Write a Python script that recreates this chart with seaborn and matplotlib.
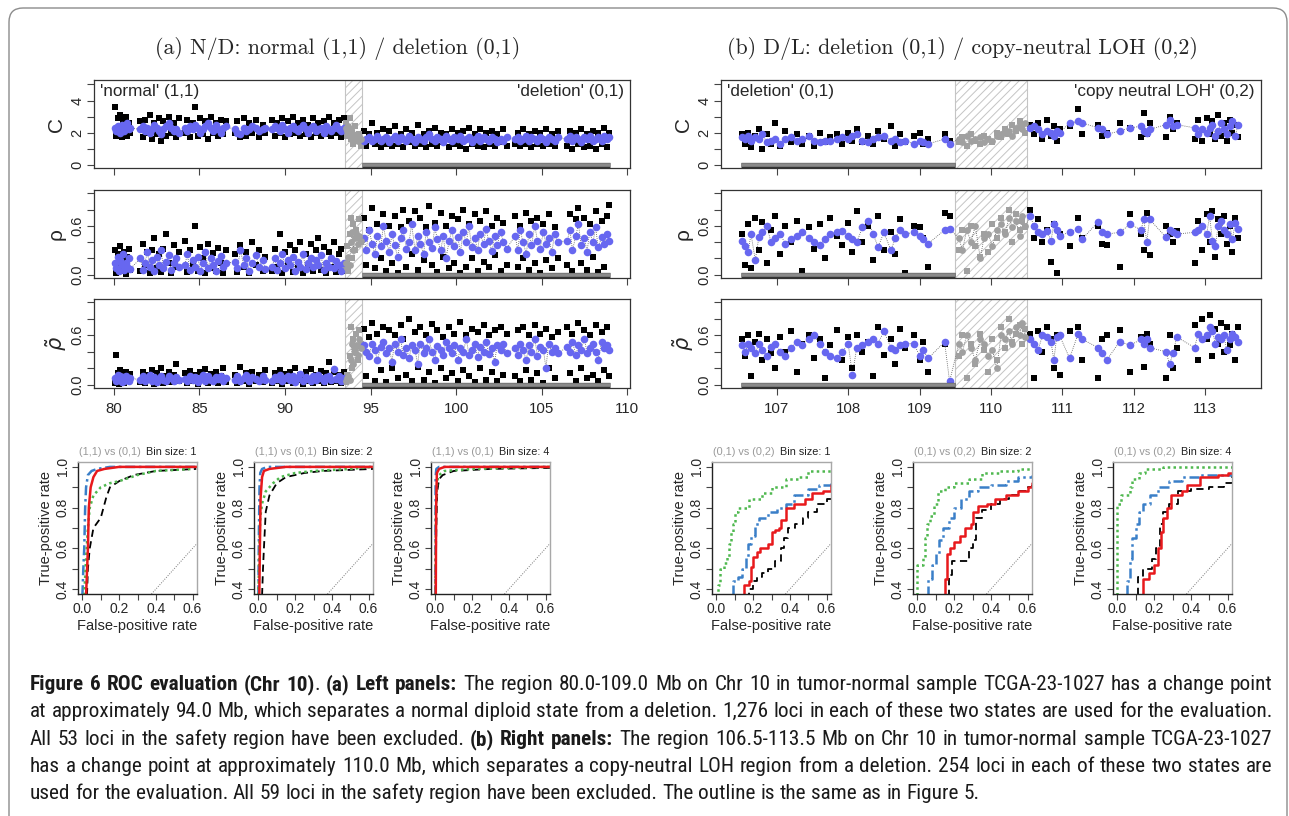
import matplotlib
matplotlib.use("Agg")
import numpy as np
import matplotlib.pyplot as plt
import seaborn as sns
from matplotlib import font_manager as fm
from matplotlib.patches import FancyBboxPatch

W, H = 1289, 816

# ---------------------------------------------------------------
# (a) N/D: loci positions (Mb) = normal | safety | deletion
# ---------------------------------------------------------------
pos_a = [
    80.05, 80.14, 80.22, 80.31, 80.38, 80.46, 80.55, 80.62, 80.71, 80.78, 80.86, 80.95,
    81.55, 81.69, 81.82, 81.96, 82.1, 82.23, 82.35, 82.51, 82.63, 82.76, 82.9, 83.04, 83.21, 83.35, 83.5, 83.66, 83.8,
    84.15, 84.29, 84.45, 84.6, 84.74, 84.9, 85.06, 85.2, 85.34, 85.5, 85.66, 85.8, 85.95, 86.1, 86.26, 86.4, 86.55,
    87.05, 87.21, 87.4, 87.58, 87.75, 87.91, 88.1, 88.3, 88.49, 88.7, 88.85,
    89.25, 89.4, 89.56, 89.7, 89.85, 90.01, 90.15, 90.3, 90.46, 90.6, 90.75, 90.9, 91.06, 91.2, 91.35, 91.51, 91.65,
    91.8, 91.95, 92.1, 92.26, 92.4, 92.55, 92.7, 92.86, 93.0, 93.15, 93.3, 93.42,
    93.55, 93.62, 93.7, 93.78, 93.85, 93.92, 94.0, 94.08, 94.15, 94.25, 94.35, 94.45,
    94.6, 94.75, 94.9, 95.1, 95.25, 95.4, 95.6, 95.75, 95.9, 96.1, 96.25, 96.4, 96.6, 96.75, 96.9, 97.1, 97.25,
    97.4, 97.6, 97.75, 97.9, 98.1, 98.25, 98.4, 98.6, 98.75, 98.9, 99.1, 99.25, 99.4, 99.6, 99.75, 99.9, 100.1,
    100.25, 100.4, 100.6, 100.75, 100.9, 101.1, 101.25, 101.4, 101.6, 101.75, 101.9, 102.1, 102.25, 102.4, 102.6,
    102.75, 102.95,
    103.45, 103.6, 103.75, 103.9, 104.1, 104.25, 104.4, 104.6, 104.75, 104.9, 105.1, 105.25, 105.4, 105.6, 105.75, 105.95,
    106.5, 106.65, 106.8, 107.0, 107.15, 107.3, 107.5, 107.65, 107.8, 108.0, 108.15, 108.3, 108.5, 108.65, 108.8, 108.95,
]

c_black_a = [
    3.6, 1.8, 2.9, 1.9, 3.1, 1.7, 2.7, 2.0, 3.0, 1.8, 2.6, 2.0,
    2.7, 1.7, 2.8, 2.0, 3.1, 1.6, 2.6, 1.9, 2.9, 1.5, 2.7, 1.8, 3.0, 2.0, 2.6, 1.7, 2.9,
    2.0, 2.8, 1.7, 2.6, 3.6, 1.8, 2.9, 1.9, 2.7, 1.6, 3.0, 2.0, 2.6, 1.8, 2.8, 1.9, 2.7,
    2.0, 2.7, 1.7, 2.9, 1.8, 2.6, 2.0, 2.8, 1.7, 2.5, 2.0,
    2.8, 1.8, 2.6, 2.0, 2.9, 1.7, 2.7, 1.9, 3.0, 2.0, 2.6, 1.8, 2.8, 1.9, 2.5, 1.7, 2.9, 2.0, 2.6, 1.8,
    2.7, 1.9, 3.0, 1.8, 2.6, 2.0, 2.8, 1.7, 2.9,
    2.6, 1.8, 2.2, 2.9, 1.6, 2.0, 1.3, 2.4, 1.7, 1.5, 1.9, 1.2,
    2.1, 1.2, 1.9, 2.6, 1.3, 2.0, 1.1, 2.2, 1.3, 2.1, 1.2, 2.4, 1.3, 1.9, 1.1, 2.2, 1.4, 2.0, 1.2, 2.5,
    1.3, 1.9, 1.1, 2.1, 1.3, 2.3, 1.2, 2.0, 1.4, 1.9, 1.1, 2.2, 1.3, 2.0, 1.2, 2.1, 1.0, 2.3, 1.3, 1.9,
    1.2, 2.2, 1.1, 2.0, 1.3, 2.1, 1.2, 1.9, 1.4, 2.2, 1.2,
    1.3, 2.0, 1.2, 2.2, 1.3, 1.9, 1.1, 2.1, 1.3, 2.0, 1.2, 2.2, 1.3, 1.9, 1.2, 2.1,
    1.2, 2.1, 1.0, 2.0, 1.3, 2.2, 1.1, 1.9, 1.2, 2.1, 1.0, 2.0, 1.3, 2.3, 1.1, 2.0,
]
c_blue_a = [
    2.3, 2.1, 2.4, 2.2, 2.0, 2.5, 2.3, 2.1, 2.4, 2.6, 2.2, 2.3,
    2.2, 2.4, 2.1, 2.3, 2.0, 2.2, 2.5, 2.3, 2.1, 1.9, 2.2, 2.4, 2.6, 2.3, 2.1, 2.2, 2.0,
    2.3, 2.1, 2.4, 2.2, 2.5, 2.3, 2.0, 2.2, 2.4, 2.6, 2.3, 2.1, 2.5, 2.2, 2.0, 2.3, 2.4,
    2.2, 2.0, 1.9, 2.3, 2.1, 2.2, 2.4, 2.3, 2.1, 2.2, 2.3,
    2.2, 2.4, 2.3, 2.1, 2.5, 2.2, 2.0, 2.3, 2.4, 2.2, 2.1, 2.3, 2.5, 2.2, 2.0, 2.3, 2.4, 2.1, 2.2, 2.3,
    2.0, 2.4, 2.2, 2.1, 2.3, 2.5, 2.2, 2.1, 2.3,
    2.3, 2.1, 2.4, 2.0, 2.2, 1.7, 1.9, 1.6, 1.8, 1.5, 1.7, 1.6,
    1.5, 1.6, 1.7, 1.5, 1.6, 1.8, 1.5, 1.6, 1.7, 1.4, 1.6, 1.8, 1.5, 1.7, 1.6, 1.5, 1.8, 1.6, 1.4, 1.7,
    1.6, 1.5, 1.7, 1.9, 1.6, 1.5, 1.7, 1.6, 1.4, 1.8, 1.6, 1.5, 1.7, 1.6, 1.8, 1.5, 1.6, 1.7, 1.4, 1.6,
    1.8, 1.5, 1.7, 1.6, 1.5, 1.7, 1.6, 1.4, 1.6, 1.5, 1.7,
    1.6, 1.7, 1.5, 1.6, 1.8, 1.5, 1.7, 1.6, 1.5, 1.7, 1.6, 1.4, 1.7, 1.6, 1.5, 1.7,
    1.6, 1.8, 1.5, 1.7, 1.6, 1.4, 1.7, 1.6, 1.8, 1.5, 1.6, 1.7, 1.5, 1.8, 1.6, 1.7,
]
rho_black_a = [
    0.3, 0.02, 0.25, 0.1, 0.35, 0.04, 0.2, 0.28, 0.01, 0.22, 0.32, 0.06,
    0.05, 0.38, 0.12, 0.28, 0.02, 0.3, 0.45, 0.08, 0.26, 0.03, 0.32, 0.5, 0.15, 0.02, 0.36, 0.1, 0.28,
    0.42, 0.03, 0.3, 0.12, 0.6, 0.05, 0.34, 0.2, 0.02, 0.38, 0.08, 0.27, 0.04, 0.33, 0.15, 0.02, 0.3,
    0.25, 0.03, 0.36, 0.1, 0.28, 0.02, 0.4, 0.12, 0.3, 0.04, 0.22,
    0.04, 0.32, 0.1, 0.5, 0.02, 0.28, 0.15, 0.36, 0.03, 0.3, 0.08, 0.4, 0.02, 0.26, 0.12, 0.38, 0.04, 0.3, 0.45, 0.06,
    0.34, 0.02, 0.28, 0.1, 0.4, 0.03, 0.25, 0.32, 0.05,
    0.1, 0.35, 0.05, 0.5, 0.7, 0.2, 0.62, 0.3, 0.55, 0.45, 0.68, 0.4,
    0.7, 0.12, 0.55, 0.82, 0.08, 0.62, 0.2, 0.75, 0.05, 0.6, 0.15, 0.72, 0.02, 0.58, 0.8, 0.1, 0.66, 0.25, 0.78, 0.06,
    0.7, 0.18, 0.58, 0.84, 0.12, 0.64, 0.03, 0.76, 0.22, 0.6, 0.08, 0.72, 0.15, 0.68, 0.02, 0.8, 0.1, 0.62, 0.2, 0.74,
    0.05, 0.66, 0.16, 0.78, 0.09, 0.6, 0.24, 0.7, 0.04, 0.64, 0.12,
    0.72, 0.1, 0.6, 0.2, 0.76, 0.06, 0.66, 0.15, 0.7, 0.02, 0.62, 0.18, 0.74, 0.08, 0.58, 0.2,
    0.12, 0.75, 0.04, 0.68, 0.82, 0.15, 0.7, 0.06, 0.62, 0.22, 0.78, 0.03, 0.66, 0.1, 0.72, 0.85,
]
rho_blue_a = [
    0.15, 0.08, 0.22, 0.05, 0.18, 0.12, 0.25, 0.06, 0.14, 0.1, 0.2, 0.07,
    0.2, 0.06, 0.15, 0.28, 0.1, 0.18, 0.05, 0.22, 0.12, 0.3, 0.08, 0.16, 0.24, 0.06, 0.14, 0.2, 0.09,
    0.12, 0.25, 0.06, 0.18, 0.1, 0.22, 0.04, 0.15, 0.28, 0.08, 0.2, 0.12, 0.05, 0.17, 0.23, 0.1, 0.14,
    0.16, 0.08, 0.3, 0.12, 0.2, 0.05, 0.14, 0.24, 0.1, 0.18, 0.07,
    0.1, 0.2, 0.06, 0.15, 0.25, 0.08, 0.18, 0.12, 0.22, 0.05, 0.16, 0.1, 0.26, 0.07, 0.14, 0.2, 0.09, 0.18, 0.12, 0.24,
    0.06, 0.15, 0.1, 0.2, 0.08, 0.17, 0.12, 0.05, 0.14,
    0.15, 0.08, 0.22, 0.12, 0.4, 0.52, 0.3, 0.45, 0.5, 0.38, 0.48, 0.42,
    0.45, 0.3, 0.55, 0.38, 0.25, 0.48, 0.35, 0.6, 0.42, 0.28, 0.5, 0.36, 0.22, 0.45, 0.55, 0.32, 0.4, 0.62, 0.3, 0.47,
    0.38, 0.26, 0.52, 0.4, 0.33, 0.58, 0.44, 0.3, 0.48, 0.2, 0.42, 0.55, 0.35, 0.46, 0.28, 0.52, 0.4, 0.6, 0.34, 0.45,
    0.3, 0.5, 0.38, 0.56, 0.42, 0.29, 0.47, 0.36, 0.53, 0.4, 0.32,
    0.48, 0.3, 0.55, 0.4, 0.26, 0.5, 0.36, 0.6, 0.42, 0.32, 0.52, 0.38, 0.45, 0.28, 0.5, 0.4,
    0.42, 0.55, 0.3, 0.48, 0.62, 0.36, 0.45, 0.28, 0.52, 0.4, 0.58, 0.34, 0.46, 0.38, 0.5, 0.42,
]
rt_black_a = [
    0.02, 0.36, 0.14, 0.01, 0.18, 0.05, 0.12, 0.02, 0.16, 0.04, 0.1, 0.13,
    0.03, 0.15, 0.02, 0.12, 0.06, 0.18, 0.01, 0.14, 0.04, 0.2, 0.02, 0.11, 0.16, 0.03, 0.12, 0.25, 0.05,
    0.14, 0.02, 0.17, 0.04, 0.12, 0.01, 0.15, 0.06, 0.19, 0.02, 0.13, 0.04, 0.16, 0.02, 0.11, 0.2, 0.03,
    0.12, 0.02, 0.22, 0.04, 0.14, 0.01, 0.16, 0.05, 0.12, 0.03, 0.18,
    0.02, 0.14, 0.05, 0.18, 0.01, 0.13, 0.04, 0.16, 0.02, 0.2, 0.06, 0.12, 0.01, 0.15, 0.04, 0.19, 0.02, 0.12, 0.05, 0.17,
    0.02, 0.14, 0.27, 0.03, 0.16, 0.05, 0.12, 0.02, 0.15,
    0.03, 0.12, 0.08, 0.35, 0.7, 0.2, 0.55, 0.42, 0.62, 0.3, 0.66, 0.5,
    0.68, 0.1, 0.58, 0.75, 0.05, 0.62, 0.18, 0.7, 0.03, 0.66, 0.2, 0.6, 0.08, 0.72, 0.55, 0.12, 0.8, 0.04, 0.64, 0.22,
    0.7, 0.06, 0.6, 0.16, 0.74, 0.02, 0.66, 0.2, 0.58, 0.08, 0.7, 0.14, 0.62, 0.04, 0.76, 0.18, 0.6, 0.1, 0.68, 0.03,
    0.64, 0.2, 0.72, 0.06, 0.6, 0.15, 0.66, 0.04, 0.7, 0.12, 0.62,
    0.1, 0.66, 0.04, 0.7, 0.18, 0.6, 0.06, 0.72, 0.14, 0.62, 0.02, 0.68, 0.2, 0.58, 0.08, 0.64,
    0.7, 0.14, 0.62, 0.04, 0.75, 0.2, 0.66, 0.08, 0.6, 0.12, 0.72, 0.05, 0.64, 0.18, 0.7, 0.1,
]
rt_blue_a = [
    0.08, 0.04, 0.12, 0.06, 0.1, 0.03, 0.09, 0.05, 0.11, 0.07, 0.04, 0.08,
    0.06, 0.1, 0.04, 0.08, 0.12, 0.05, 0.09, 0.03, 0.07, 0.11, 0.06, 0.04, 0.1, 0.08, 0.05, 0.09, 0.06,
    0.07, 0.04, 0.11, 0.06, 0.09, 0.03, 0.08, 0.12, 0.05, 0.1, 0.06, 0.04, 0.09, 0.07, 0.11, 0.05, 0.08,
    0.06, 0.1, 0.04, 0.08, 0.12, 0.05, 0.09, 0.07, 0.04, 0.1, 0.06,
    0.05, 0.09, 0.07, 0.12, 0.04, 0.08, 0.1, 0.06, 0.11, 0.03, 0.08, 0.13, 0.05, 0.09, 0.07, 0.04, 0.1, 0.06, 0.12, 0.08,
    0.05, 0.09, 0.11, 0.06, 0.19, 0.07, 0.1, 0.05, 0.08,
    0.05, 0.08, 0.1, 0.06, 0.3, 0.5, 0.25, 0.4, 0.48, 0.36, 0.55, 0.45,
    0.48, 0.4, 0.35, 0.5, 0.42, 0.3, 0.46, 0.52, 0.38, 0.44, 0.28, 0.5, 0.4, 0.56, 0.36, 0.45, 0.32, 0.48, 0.42, 0.25,
    0.5, 0.38, 0.45, 0.55, 0.4, 0.3, 0.47, 0.42, 0.36, 0.52, 0.44, 0.38, 0.48, 0.3, 0.45, 0.4, 0.55, 0.36, 0.42, 0.5,
    0.34, 0.46, 0.4, 0.52, 0.37, 0.44, 0.28, 0.48, 0.42, 0.5, 0.38,
    0.44, 0.36, 0.5, 0.42, 0.3, 0.48, 0.4, 0.55, 0.35, 0.46, 0.42, 0.2, 0.5, 0.4, 0.45, 0.38,
    0.46, 0.4, 0.52, 0.36, 0.48, 0.42, 0.56, 0.38, 0.45, 0.5, 0.4, 0.3, 0.52, 0.44, 0.48, 0.42,
]

# ---------------------------------------------------------------
# (b) D/L: loci positions (Mb) = deletion | safety | copy-neutral LOH
# ---------------------------------------------------------------
pos_b = [
    106.52, 106.56, 106.6, 106.64, 106.7, 106.75, 106.8, 106.86, 106.92, 106.98,
    107.05, 107.12, 107.2, 107.28, 107.36, 107.45, 107.52, 107.6, 107.68, 107.75,
    107.85, 107.92, 108.0, 108.06, 108.12, 108.2, 108.28, 108.35, 108.42, 108.5,
    108.6, 108.66, 108.72, 108.8, 108.92, 109.0, 109.05, 109.12, 109.35, 109.42,
    109.55, 109.6, 109.66, 109.72, 109.78, 109.85, 109.9, 109.96, 110.02, 110.08,
    110.14, 110.2, 110.25, 110.3, 110.35, 110.4, 110.44, 110.48,
    110.55, 110.6, 110.66, 110.72, 110.78, 110.84, 110.88, 110.92, 110.96, 111.1,
    111.22, 111.28, 111.5, 111.56, 111.62, 111.8, 111.95, 112.1, 112.14, 112.18,
    112.22, 112.45, 112.5, 112.55, 112.6, 112.85, 112.9, 112.95, 113.02, 113.06,
    113.1, 113.14, 113.18, 113.22, 113.26, 113.3, 113.34, 113.38, 113.42, 113.46,
]
c_black_b = [
    1.9, 1.3, 2.0, 1.1, 1.8, 2.2, 1.0, 1.9, 1.3, 2.6, 1.2, 2.1, 1.4, 1.9, 1.3, 1.8, 1.2, 2.0, 1.4, 1.7,
    1.9, 1.3, 2.0, 1.5, 2.2, 1.4, 1.8, 1.3, 2.1, 1.6, 2.4, 1.2, 1.9, 1.4, 1.8, 2.0, 1.3, 1.6, 1.9, 1.5,
    1.4, 1.7, 1.2, 1.9, 1.5, 1.3, 1.8, 1.6, 1.4, 2.0, 1.7, 2.2, 1.9, 2.5, 2.1, 2.7, 2.3, 2.0,
    2.5, 1.9, 2.6, 1.6, 2.8, 1.8, 2.4, 1.5, 2.2, 2.4, 3.5, 1.9, 2.5, 1.8, 2.0, 2.6, 2.3, 1.7, 3.2, 1.9,
    2.6, 1.7, 3.0, 2.2, 2.6, 1.6, 2.8, 1.5, 2.9, 1.9, 2.7, 1.6, 3.1, 1.8, 2.6, 1.5, 2.8, 2.0, 2.5, 1.7,
]
c_blue_b = [
    1.7, 1.6, 1.8, 1.5, 1.7, 1.6, 1.9, 1.4, 1.5, 1.6, 1.3, 1.6, 1.7, 1.5, 1.6, 1.8, 1.5, 1.4, 1.5, 1.5,
    1.6, 1.7, 1.6, 1.8, 1.9, 1.5, 1.4, 1.6, 1.7, 1.8, 1.5, 1.6, 1.4, 1.5, 1.3, 1.5, 1.4, 1.3, 1.6, 1.3,
    1.6, 1.4, 1.8, 1.5, 1.6, 1.7, 1.4, 1.6, 1.5, 1.8, 1.9, 2.0, 2.1, 1.8, 2.3, 2.5, 2.2, 2.6,
    2.3, 2.4, 2.2, 1.9, 2.1, 2.0, 1.8, 2.1, 2.0, 2.6, 2.7, 2.6, 2.3, 2.2, 1.9, 2.1, 2.3, 2.4, 2.1, 2.0,
    2.2, 2.5, 2.8, 2.4, 2.5, 2.3, 1.9, 2.2, 2.0, 2.3, 2.5, 1.8, 2.1, 2.6, 2.2, 1.9, 2.4, 2.7, 1.8, 2.5,
]
rho_black_b = [
    0.5, 0.12, 0.62, 0.08, 0.7, 0.3, 0.65, 0.15, 0.55, 0.72, 0.25, 0.6, 0.4, 0.66, 0.05, 0.58, 0.32, 0.62, 0.2, 0.7,
    0.48, 0.36, 0.64, 0.28, 0.78, 0.4, 0.6, 0.18, 0.72, 0.3, 0.52, 0.25, 0.68, 0.02, 0.6, 0.58, 0.45, 0.1, 0.76, 0.72,
    0.3, 0.55, 0.05, 0.6, 0.35, 0.22, 0.5, 0.28, 0.62, 0.45, 0.7, 0.52, 0.8, 0.4, 0.75, 0.55, 0.66, 0.58,
    0.8, 0.45, 0.68, 0.4, 0.55, 0.16, 0.62, 0.02, 0.5, 0.35, 0.7, 0.45, 0.6, 0.38, 0.36, 0.1, 0.75, 0.5, 0.3, 0.76,
    0.24, 0.6, 0.5, 0.4, 0.54, 0.15, 0.66, 0.3, 0.75, 0.4, 0.78, 0.22, 0.68, 0.5, 0.72, 0.38, 0.6, 0.28, 0.7, 0.45,
]
rho_blue_b = [
    0.42, 0.35, 0.28, 0.5, 0.18, 0.46, 0.52, 0.6, 0.4, 0.45, 0.5, 0.38, 0.44, 0.48, 0.52, 0.45, 0.4, 0.36, 0.44, 0.5,
    0.52, 0.54, 0.48, 0.44, 0.4, 0.58, 0.66, 0.5, 0.34, 0.52, 0.3, 0.45, 0.55, 0.5, 0.52, 0.48, 0.44, 0.38, 0.55, 0.56,
    0.45, 0.3, 0.55, 0.4, 0.6, 0.2, 0.45, 0.5, 0.35, 0.55, 0.62, 0.5, 0.7, 0.58, 0.66, 0.48, 0.72, 0.6,
    0.72, 0.6, 0.52, 0.5, 0.54, 0.42, 0.62, 0.55, 0.48, 0.52, 0.56, 0.44, 0.65, 0.52, 0.5, 0.52, 0.62, 0.55, 0.68, 0.4,
    0.68, 0.46, 0.55, 0.52, 0.5, 0.52, 0.55, 0.6, 0.5, 0.72, 0.42, 0.35, 0.6, 0.66, 0.55, 0.5, 0.62, 0.44, 0.64, 0.56,
]
rt_black_b = [
    0.55, 0.35, 0.6, 0.1, 0.52, 0.62, 0.3, 0.56, 0.38, 0.2, 0.58, 0.4, 0.65, 0.15, 0.5, 0.6, 0.32, 0.55, 0.08, 0.48,
    0.66, 0.3, 0.58, 0.2, 0.6, 0.4, 0.52, 0.1, 0.7, 0.36, 0.55, 0.25, 0.68, 0.45, 0.6, 0.3, 0.52, 0.15, 0.5, 0.02,
    0.35, 0.6, 0.08, 0.5, 0.25, 0.62, 0.42, 0.15, 0.55, 0.3, 0.7, 0.45, 0.8, 0.52, 0.62, 0.72, 0.5, 0.68,
    0.62, 0.08, 0.65, 0.4, 0.7, 0.55, 0.2, 0.6, 0.12, 0.65, 0.7, 0.3, 0.08, 0.55, 0.6, 0.66, 0.15, 0.58, 0.22, 0.62,
    0.5, 0.08, 0.6, 0.2, 0.45, 0.72, 0.3, 0.8, 0.55, 0.85, 0.35, 0.68, 0.5, 0.75, 0.4, 0.7, 0.48, 0.62, 0.3, 0.7,
]
rt_blue_b = [
    0.48, 0.4, 0.5, 0.45, 0.38, 0.5, 0.42, 0.35, 0.46, 0.5, 0.4, 0.35, 0.45, 0.52, 0.48, 0.56, 0.6, 0.5, 0.4, 0.35,
    0.32, 0.4, 0.5, 0.12, 0.45, 0.48, 0.52, 0.55, 0.5, 0.65, 0.45, 0.42, 0.48, 0.5, 0.5, 0.35, 0.42, 0.32, 0.52, 0.04,
    0.5, 0.4, 0.6, 0.45, 0.3, 0.55, 0.5, 0.35, 0.42, 0.2, 0.6, 0.55, 0.65, 0.5, 0.7, 0.6, 0.75, 0.58,
    0.55, 0.5, 0.42, 0.6, 0.58, 0.52, 0.3, 0.58, 0.6, 0.32, 0.62, 0.55, 0.45, 0.38, 0.3, 0.52, 0.48, 0.55, 0.5, 0.55,
    0.45, 0.4, 0.25, 0.38, 0.58, 0.45, 0.62, 0.55, 0.6, 0.7, 0.65, 0.5, 0.58, 0.56, 0.6, 0.42, 0.55, 0.62, 0.58, 0.52,
]

# ---------------------------------------------------------------
# ROC curves (false-positive rate, true-positive rate) per panel
# ---------------------------------------------------------------
roc_a1 = {
    "black": ([0.025, 0.03, 0.04, 0.06, 0.1, 0.13, 0.15, 0.2, 0.28, 0.4, 0.62],
              [0.37, 0.5, 0.6, 0.7, 0.75, 0.85, 0.9, 0.93, 0.96, 0.98, 0.99]),
    "blue": ([0.0, 0.005, 0.01, 0.015, 0.02, 0.03, 0.05, 0.08, 0.15, 0.625],
             [0.37, 0.5, 0.6, 0.8, 0.9, 0.96, 0.98, 0.99, 1.0, 1.0]),
    "green": ([0.01, 0.02, 0.03, 0.04, 0.06, 0.1, 0.15, 0.2, 0.3, 0.4, 0.6],
              [0.37, 0.55, 0.7, 0.8, 0.86, 0.9, 0.92, 0.93, 0.96, 0.98, 0.99]),
    "red": ([0.02, 0.03, 0.035, 0.045, 0.06, 0.08, 0.12, 0.2, 0.625],
            [0.37, 0.6, 0.8, 0.9, 0.95, 0.98, 0.99, 1.0, 1.0]),
}
roc_a2 = {
    "black": ([0.02, 0.025, 0.03, 0.04, 0.06, 0.1, 0.15, 0.25, 0.35, 0.625],
              [0.37, 0.5, 0.6, 0.78, 0.86, 0.92, 0.95, 0.97, 0.98, 0.99]),
    "blue": ([0.0, 0.003, 0.006, 0.01, 0.02, 0.05, 0.625],
             [0.37, 0.7, 0.9, 0.97, 0.99, 1.0, 1.0]),
    "green": ([0.0, 0.005, 0.01, 0.02, 0.04, 0.08, 0.12, 0.2, 0.3, 0.5, 0.625],
              [0.37, 0.6, 0.75, 0.82, 0.88, 0.92, 0.95, 0.97, 0.98, 0.99, 1.0]),
    "red": ([0.005, 0.008, 0.012, 0.02, 0.03, 0.06, 0.15, 0.625],
            [0.37, 0.6, 0.85, 0.95, 0.98, 0.99, 1.0, 1.0]),
}
roc_a3 = {
    "black": ([0.001, 0.005, 0.01, 0.02, 0.04, 0.1, 0.3, 0.625],
              [0.37, 0.7, 0.88, 0.94, 0.96, 0.98, 0.99, 0.995]),
    "blue": ([0.0, 0.001, 0.005, 0.02, 0.625],
             [0.37, 0.95, 0.99, 1.0, 1.0]),
    "green": ([0.0, 0.003, 0.01, 0.02, 0.05, 0.2, 0.625],
              [0.37, 0.8, 0.93, 0.96, 0.98, 0.99, 1.0]),
    "red": ([0.002, 0.004, 0.008, 0.02, 0.05, 0.625],
            [0.37, 0.8, 0.97, 0.99, 1.0, 1.0]),
}
roc_b1 = {
    "black": ([0.15, 0.18, 0.2, 0.22, 0.25, 0.28, 0.32, 0.35, 0.37, 0.39, 0.43, 0.47, 0.5, 0.55, 0.6, 0.625],
              [0.37, 0.4, 0.44, 0.46, 0.48, 0.5, 0.54, 0.6, 0.65, 0.7, 0.72, 0.75, 0.78, 0.82, 0.84, 0.84]),
    "blue": ([0.09, 0.09, 0.12, 0.14, 0.16, 0.17, 0.19, 0.21, 0.23, 0.28, 0.33, 0.38, 0.42, 0.5, 0.56, 0.625],
             [0.37, 0.44, 0.46, 0.5, 0.56, 0.62, 0.66, 0.72, 0.75, 0.78, 0.8, 0.82, 0.86, 0.89, 0.91, 0.93]),
    "green": ([0.0, 0.01, 0.02, 0.04, 0.06, 0.07, 0.08, 0.09, 0.1, 0.12, 0.18, 0.25, 0.3, 0.38, 0.45, 0.5, 0.625],
              [0.37, 0.42, 0.5, 0.53, 0.56, 0.62, 0.68, 0.72, 0.78, 0.8, 0.84, 0.87, 0.9, 0.94, 0.95, 0.98, 0.98]),
    "red": ([0.15, 0.15, 0.18, 0.19, 0.2, 0.22, 0.24, 0.28, 0.3, 0.32, 0.34, 0.35, 0.38, 0.42, 0.48, 0.52, 0.58, 0.625],
            [0.37, 0.42, 0.44, 0.51, 0.56, 0.58, 0.6, 0.62, 0.68, 0.69, 0.7, 0.74, 0.8, 0.82, 0.84, 0.87, 0.88, 0.91]),
}
roc_b2 = {
    "black": ([0.16, 0.17, 0.19, 0.26, 0.28, 0.3, 0.32, 0.35, 0.4, 0.45, 0.5, 0.55, 0.6, 0.625],
              [0.37, 0.47, 0.54, 0.54, 0.6, 0.64, 0.75, 0.79, 0.82, 0.84, 0.86, 0.88, 0.9, 0.91]),
    "blue": ([0.05, 0.06, 0.08, 0.1, 0.12, 0.14, 0.17, 0.2, 0.24, 0.28, 0.33, 0.4, 0.48, 0.55, 0.625],
             [0.37, 0.45, 0.52, 0.57, 0.64, 0.7, 0.75, 0.8, 0.84, 0.88, 0.9, 0.91, 0.93, 0.95, 0.96]),
    "green": ([0.0, 0.0, 0.03, 0.04, 0.05, 0.07, 0.09, 0.11, 0.15, 0.2, 0.28, 0.35, 0.45, 0.55, 0.625],
              [0.37, 0.52, 0.56, 0.65, 0.72, 0.76, 0.82, 0.88, 0.9, 0.92, 0.94, 0.97, 0.98, 0.99, 0.99]),
    "red": ([0.13, 0.15, 0.16, 0.18, 0.2, 0.23, 0.26, 0.29, 0.3, 0.33, 0.38, 0.42, 0.48, 0.55, 0.6, 0.625],
            [0.37, 0.45, 0.57, 0.6, 0.63, 0.66, 0.7, 0.72, 0.78, 0.81, 0.82, 0.84, 0.86, 0.88, 0.9, 0.92]),
}
roc_b3 = {
    "black": ([0.11, 0.11, 0.14, 0.19, 0.21, 0.23, 0.25, 0.28, 0.33, 0.4, 0.5, 0.58, 0.625],
              [0.37, 0.46, 0.5, 0.55, 0.6, 0.72, 0.78, 0.82, 0.88, 0.89, 0.9, 0.92, 0.96]),
    "blue": ([0.05, 0.05, 0.07, 0.08, 0.1, 0.12, 0.14, 0.18, 0.22, 0.28, 0.35, 0.45, 0.625],
             [0.37, 0.44, 0.55, 0.65, 0.72, 0.78, 0.82, 0.86, 0.9, 0.93, 0.95, 0.96, 0.97]),
    "green": ([0.0, 0.0, 0.02, 0.07, 0.08, 0.12, 0.15, 0.25, 0.625],
              [0.37, 0.82, 0.86, 0.9, 0.94, 0.97, 0.99, 1.0, 1.0]),
    "red": ([0.14, 0.14, 0.17, 0.2, 0.22, 0.24, 0.25, 0.27, 0.29, 0.35, 0.38, 0.45, 0.55, 0.6, 0.625],
            [0.37, 0.45, 0.48, 0.52, 0.6, 0.68, 0.75, 0.8, 0.86, 0.88, 0.91, 0.95, 0.96, 0.97, 0.97]),
}

CAPTION = [
    [("Figure 6 ROC evaluation (Chr 10)", "bold"), (". ", "normal"), ("(a) Left panels:", "bold"),
     (" The region 80.0-109.0 Mb on Chr 10 in tumor-normal sample TCGA-23-1027 has a change point", "normal")],
    [("at approximately 94.0 Mb, which separates a normal diploid state from a deletion. "
      "1,276 loci in each of these two states are used for the evaluation.", "normal")],
    [("All 53 loci in the safety region have been excluded. ", "normal"), ("(b) Right panels:", "bold"),
     (" The region 106.5-113.5 Mb on Chr 10 in tumor-normal sample TCGA-23-1027", "normal")],
    [("has a change point at approximately 110.0 Mb, which separates a copy-neutral LOH region from a deletion. "
      "254 loci in each of these two states are", "normal")],
    [("used for the evaluation. All 59 loci in the safety region have been excluded. "
      "The outline is the same as in Figure 5.", "normal")],
]

# ---------------------------------------------------------------
# style
# ---------------------------------------------------------------
sns.set_theme(style="white")
plt.rcParams["font.family"] = ["Liberation Sans", "DejaVu Sans"]
plt.rcParams["mathtext.fontset"] = "dejavusans"
plt.rcParams["hatch.linewidth"] = 0.7

BLUE = "#6767f0"
SAFE_GRAY = "#a0a0a0"
ROC_STYLE = {
    "black": dict(color="black", lw=1.3, linestyle=(0, (4, 2.5))),
    "blue": dict(color="#3a7fc8", lw=1.8, linestyle=(0, (4, 1.5, 1, 1.5))),
    "green": dict(color="#4fb84f", lw=1.8, linestyle=(0, (1, 1.3))),
    "red": dict(color="#e8191c", lw=1.8, linestyle="-"),
}


def _weight(w):
    if isinstance(w, str):
        return fm.weight_dict.get(w.lower(), 400)
    return int(w)


def pick_caption_font():
    # a narrow sans close to the journal's condensed face, needing an upright regular and a bold cut
    narrow = {"condensed", "semi-condensed", "extra-condensed", "ultra-condensed"}
    cands = []
    for fam in ["Liberation Sans Narrow", "Open Sans Condensed", "Roboto Condensed",
                "Noto Sans Condensed", "DejaVu Sans Condensed"]:
        cands.append((fam, None))
    for fam in ["Noto Sans", "Open Sans", "Roboto", "DejaVu Sans"]:
        cands.append((fam, narrow))
    fallback = None
    for fam, stretches in cands:
        ws = set()
        stretch_used = "normal"
        for f in fm.fontManager.ttflist:
            if f.name != fam or f.style != "normal":
                continue
            if stretches is not None and str(f.stretch) not in stretches:
                continue
            if stretches is not None:
                stretch_used = str(f.stretch)
            ws.add(_weight(f.weight))
        regular = [w for w in ws if 350 <= w <= 500]
        bold = [w for w in ws if w >= 600]
        if regular and bold:
            return fam, stretch_used, 400, 700
        light = [w for w in ws if 300 <= w < 350]
        if light and bold and fallback is None:
            fallback = (fam, stretch_used, min(light), 700)
    if fallback:
        return fallback
    return "Liberation Sans", "normal", 400, 700


CAP_FAMILY, CAP_STRETCH, CAP_REGULAR, CAP_BOLD = pick_caption_font()
CAP_WEIGHT = {"normal": CAP_REGULAR, "bold": CAP_BOLD}

fig = plt.figure(figsize=(W / 100, H / 100), dpi=100)
bg = fig.add_axes([0, 0, 1, 1], zorder=-1)
bg.set_xlim(0, W)
bg.set_ylim(H, 0)
bg.axis("off")
bg.add_patch(FancyBboxPatch((9, 8), W - 11, H + 40, boxstyle="round,pad=0,rounding_size=14",
                            fc="white", ec="#8c8c8c", lw=1.0))


def px_axes(x0, y0, x1, y1):
    return fig.add_axes([x0 / W, 1 - y1 / H, (x1 - x0) / W, (y1 - y0) / H])


TRACK_ROWS = [(80, 168), (190, 278), (299, 388)]
TRACK_SPECS = [
    ("C", (-0.2, 5.28), [0, 1, 2, 3, 4, 5], ["0", "", "2", "", "4", ""]),
    ("\u03c1", (-0.04, 1.04), [0, 0.2, 0.4, 0.6, 0.8, 1.0], ["0.0", "", "", "0.6", "", ""]),
    (r"$\tilde{\rho}$", (-0.04, 1.04), [0, 0.2, 0.4, 0.6, 0.8, 1.0], ["0.0", "", "", "0.6", "", ""]),
]


def draw_side(x0, x1, xlim, xticks, pos, tracks, safe, deleted, left_txt, right_txt):
    pos = np.asarray(pos)
    in_safe = (pos > safe[0]) & (pos < safe[1])
    for i, ((y0, y1), (black, blue), spec) in enumerate(zip(TRACK_ROWS, tracks, TRACK_SPECS)):
        name, ylim, ticks, labels = spec
        black = np.asarray(black)
        blue = np.asarray(blue)
        ax = px_axes(x0, y0, x1, y1)
        ax.axvspan(safe[0], safe[1], facecolor="white", edgecolor="#c4c4c4", hatch="////", lw=0.8, zorder=0)
        # dotted trace through the blue points
        sns.lineplot(x=pos, y=blue, ax=ax, sort=False, estimator=None, color="#555555",
                     lw=0.6, linestyle=(0, (1, 1.5)), zorder=1)
        sns.scatterplot(x=pos[~in_safe], y=black[~in_safe], ax=ax, marker="s", s=15,
                        color="black", linewidth=0, zorder=2)
        sns.scatterplot(x=pos[in_safe], y=black[in_safe], ax=ax, marker="s", s=13,
                        color=SAFE_GRAY, linewidth=0, zorder=2)
        sns.scatterplot(x=pos[~in_safe], y=blue[~in_safe], ax=ax, marker="o", s=30,
                        color=BLUE, linewidth=0, zorder=3)
        sns.scatterplot(x=pos[in_safe], y=blue[in_safe], ax=ax, marker="o", s=24,
                        color=SAFE_GRAY, linewidth=0, zorder=3)
        # deletion state bar
        ax.plot(deleted, [0, 0], color="#333333", lw=3.8, solid_capstyle="butt", zorder=4)
        ax.plot(deleted, [0, 0], color="#8a8a8a", lw=2.6, solid_capstyle="butt", zorder=5)

        ax.set_xlim(xlim)
        ax.set_ylim(ylim)
        ax.set_xticks(xticks)
        ax.set_yticks(ticks)
        ax.set_yticklabels(labels, rotation=90, va="center", fontsize=10.5)
        if i == 2:
            ax.set_xticklabels([str(t) for t in xticks], fontsize=10.8)
        else:
            ax.set_xticklabels([])
        ax.tick_params(axis="both", direction="out", length=5, width=0.8, color="#444444",
                       bottom=True, left=True)
        ax.tick_params(axis="y", pad=2)
        ax.tick_params(axis="x", pad=5)
        ax.set_xlabel("")
        ax.set_ylabel("")
        for sp in ax.spines.values():
            sp.set_color("#333333")
            sp.set_linewidth(0.9)
        fig.text((x0 - 38) / W, 1 - (y0 + y1) / 2 / H, name, rotation=90, ha="center", va="center",
                 fontsize=15)
        if i == 0:
            ax.text(0.012, 0.95, left_txt, transform=ax.transAxes, ha="left", va="top", fontsize=12.3)
            ax.text(0.988, 0.95, right_txt, transform=ax.transAxes, ha="right", va="top", fontsize=12.3)


def draw_roc(box, curves, pair, bin_size, steps):
    x0, y0, x1, y1 = box
    ax = px_axes(x0, y0, x1, y1)
    ax.plot([0.376, 0.624], [0.376, 0.624], color="#777777", lw=0.7, linestyle=(0, (1, 1.5)))
    for key in ["black", "blue", "green", "red"]:
        fpr, tpr = curves[key]
        sns.lineplot(x=fpr, y=tpr, ax=ax, sort=False, estimator=None,
                     drawstyle="steps-post" if steps else "default", **ROC_STYLE[key])
    ax.set_xlim(-0.024, 0.624)
    ax.set_ylim(0.376, 1.024)
    ax.set_xticks([0, 0.1, 0.2, 0.3, 0.4, 0.5, 0.6])
    ax.set_xticklabels(["0.0", "", "0.2", "", "0.4", "", "0.6"], fontsize=10)
    ax.set_yticks([0.4, 0.5, 0.6, 0.7, 0.8, 0.9, 1.0])
    ax.set_yticklabels(["0.4", "", "0.6", "", "0.8", "", "1.0"], fontsize=10, rotation=90, va="center")
    ax.tick_params(axis="both", direction="out", length=4, width=0.8, color="#444444",
                   bottom=True, left=True, pad=2)
    ax.set_xlabel("False-positive rate", fontsize=10.5, labelpad=2)
    ax.set_ylabel("True-positive rate", fontsize=10.5, labelpad=2)
    for name, sp in ax.spines.items():
        sp.set_linewidth(1.0)
        sp.set_color("#222222" if name in ("left", "bottom") else "#a8a8a8")
    fig.text((x0 + 1) / W, 1 - 452 / H, pair, color="#999999", fontsize=7.8, va="center", ha="left")
    fig.text((x0 + 68) / W, 1 - 452 / H, f"Bin size: {bin_size}", color="#222222", fontsize=7.8,
             va="center", ha="left")


# ---------------------------------------------------------------
# scatter tracks
# ---------------------------------------------------------------
draw_side(94, 630, (78.84, 110.16), [80, 85, 90, 95, 100, 105, 110], pos_a,
          [(c_black_a, c_blue_a), (rho_black_a, rho_blue_a), (rt_black_a, rt_blue_a)],
          (93.5, 94.5), (94.5, 109.0), "'normal' (1,1)", "'deletion' (0,1)")
draw_side(721, 1261, (106.22, 113.78), [107, 108, 109, 110, 111, 112, 113], pos_b,
          [(c_black_b, c_blue_b), (rho_black_b, rho_blue_b), (rt_black_b, rt_blue_b)],
          (109.5, 110.5), (106.5, 109.5), "'deletion' (0,1)", "'copy neutral LOH' (0,2)")

bg.text(155, 48, "(a) N/D: normal (1,1) / deletion (0,1)", family="cmr10", fontsize=15.8,
        ha="left", va="center")
bg.text(727, 48, "(b) D/L: deletion (0,1) / copy-neutral LOH (0,2)", family="cmr10", fontsize=15.8,
        ha="left", va="center")

# ---------------------------------------------------------------
# ROC panels
# ---------------------------------------------------------------
ROC_Y = (462, 594)
for left, curves, bs in [(78, roc_a1, 1), (254, roc_a2, 2), (431, roc_a3, 4)]:
    draw_roc((left, ROC_Y[0], left + 119, ROC_Y[1]), curves, "(1,1) vs (0,1)", bs, steps=False)
for left, curves, bs in [(712, roc_b1, 1), (913, roc_b2, 2), (1113, roc_b3, 4)]:
    draw_roc((left, ROC_Y[0], left + 119, ROC_Y[1]), curves, "(0,1) vs (0,2)", bs, steps=True)

# ---------------------------------------------------------------
# caption (justified)
# ---------------------------------------------------------------
renderer = fig.canvas.get_renderer()


def text_width(s, weight, size):
    t = bg.text(0, 0, s, fontsize=size, fontweight=CAP_WEIGHT[weight], family=CAP_FAMILY,
                fontstretch=CAP_STRETCH)
    w = t.get_window_extent(renderer).width
    t.remove()
    return w


def split_words(segments):
    words = [[]]
    for txt, wt in segments:
        for i, part in enumerate(txt.split(" ")):
            if i > 0:
                words.append([])
            if part:
                words[-1].append((part, wt))
    return [w for w in words if w]


X_LEFT, X_RIGHT = 30, 1272
BASELINES = [690, 717, 745, 772, 799]
cap_size = 12.8
space = text_width("a a", "normal", cap_size) - text_width("aa", "normal", cap_size)
natural = []
for seg in CAPTION:
    words = split_words(seg)
    total = sum(text_width(p, wt, cap_size) for w in words for p, wt in w)
    natural.append(total + space * (len(words) - 1))
ratio = max(natural[:4]) / ((X_RIGHT - X_LEFT) * 0.995)
cap_size = cap_size / ratio if ratio > 1 else cap_size * min(1.35, 1 / ratio)
space = text_width("a a", "normal", cap_size) - text_width("aa", "normal", cap_size)

for li, (seg, base) in enumerate(zip(CAPTION, BASELINES)):
    words = split_words(seg)
    widths = [[text_width(p, wt, cap_size) for p, wt in w] for w in words]
    total = sum(sum(w) for w in widths)
    if li < 4:
        gap = (X_RIGHT - X_LEFT - total) / (len(words) - 1)
    else:
        gap = space
    x = X_LEFT
    for w, ws in zip(words, widths):
        for (p, wt), pw in zip(w, ws):
            bg.text(x, base, p, fontsize=cap_size, fontweight=CAP_WEIGHT[wt], family=CAP_FAMILY,
                    fontstretch=CAP_STRETCH, ha="left", va="baseline", color="#1a1a1a")
            x += pw
        x += gap

fig.savefig("out.png", dpi=100)
